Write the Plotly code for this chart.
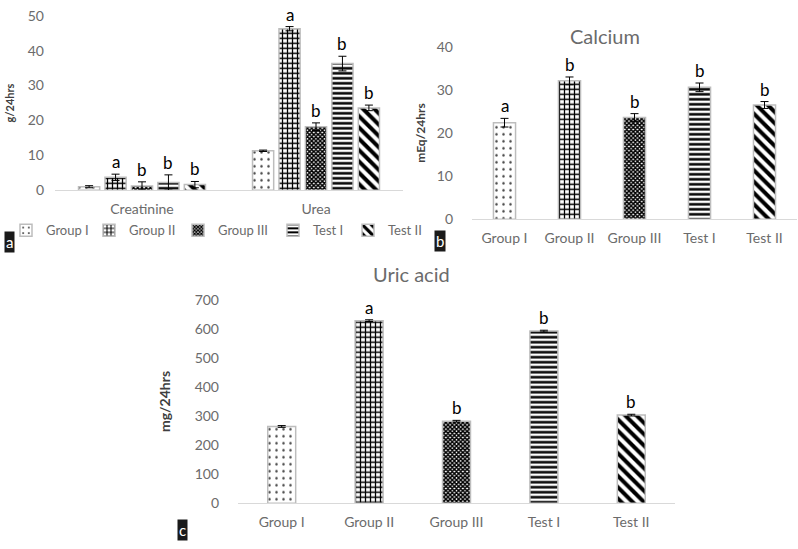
import plotly.graph_objects as go

W, H = 798, 549

groups = ["Group I", "Group II", "Group III", "Test I", "Test II"]
a_categories = ["Creatinine", "Urea"]
# panel a values per group: [Creatinine, Urea]
a_values = {
    "Group I": [1.0, 11.3],
    "Group II": [3.7, 46.3],
    "Group III": [1.2, 18.2],
    "Test I": [2.2, 36.3],
    "Test II": [1.6, 23.6],
}
a_errors = {
    "Group I": [0.3, 0.2],
    "Group II": [0.9, 0.6],
    "Group III": [1.2, 1.1],
    "Test I": [2.2, 2.1],
    "Test II": [0.9, 0.8],
}
a_letters = {
    "Group I": ["", ""],
    "Group II": ["a", "a"],
    "Group III": ["b", "b"],
    "Test I": ["b", "b"],
    "Test II": ["b", "b"],
}

calcium_values = [22.4, 32.1, 23.6, 30.6, 26.5]
calcium_errors = [1.0, 0.9, 0.9, 1.0, 0.8]
calcium_letters = ["a", "b", "b", "b", "b"]

uric_values = [264, 628, 282, 592, 303]
uric_errors = [3, 3, 3, 3, 3]
uric_letters = ["", "a", "b", "b", "b"]

a_ticks = [0, 10, 20, 30, 40, 50]
b_ticks = [0, 10, 20, 30, 40]
c_ticks = [0, 100, 200, 300, 400, 500, 600, 700]

patterns = {
    "Group I": dict(shape=".", size=7, solidity=0.1, fgcolor="#444444"),
    "Group II": dict(shape="+", size=5, solidity=0.45, fgcolor="#000000"),
    "Group III": dict(shape="x", size=3, solidity=0.75, fgcolor="#000000"),
    "Test I": dict(shape="-", size=5, solidity=0.5, fgcolor="#000000"),
    "Test II": dict(shape="\\", size=8, solidity=0.5, fgcolor="#000000"),
}
# legend entry widths (px), slightly tighter than the text itself
legend_widths = {"Group I": 38, "Group II": 44, "Group III": 50, "Test I": 30, "Test II": 34}

FONT = "Lato"
GREY = "#6b6b6b"
OUTLINE = dict(color="#bdbdbd", width=1.5)


def px_x(p):
    return p / W


def px_y(p):
    return 1 - p / H


def pattern_for(keys):
    return dict(shape=[patterns[g]["shape"] for g in keys],
                size=[patterns[g]["size"] for g in keys],
                solidity=[patterns[g]["solidity"] for g in keys],
                fgcolor=[patterns[g]["fgcolor"] for g in keys],
                bgcolor="white", fgopacity=1)


fig = go.Figure()

# ---- panel a ----
for g in groups:
    fig.add_trace(go.Bar(
        x=a_categories, y=a_values[g], name=g,
        error_y=dict(type="data", array=a_errors[g], color="black", thickness=1, width=4),
        marker=dict(color="white", line=OUTLINE,
                    pattern=dict(patterns[g], bgcolor="white", fgopacity=1)),
        xaxis="x", yaxis="y", showlegend=True, legendwidth=legend_widths[g],
    ))

# ---- panel b ----
fig.add_trace(go.Bar(
    x=groups, y=calcium_values, width=0.34,
    error_y=dict(type="data", array=calcium_errors, color="black", thickness=1, width=4),
    marker=dict(color="white", line=OUTLINE, pattern=pattern_for(groups)),
    xaxis="x2", yaxis="y2", showlegend=False,
))

# ---- panel c ----
fig.add_trace(go.Bar(
    x=groups, y=uric_values, width=0.32,
    error_y=dict(type="data", array=uric_errors, color="black", thickness=1, width=4),
    marker=dict(color="white", line=OUTLINE, pattern=pattern_for(groups)),
    xaxis="x3", yaxis="y3", showlegend=False,
))

annotations = []
BARGAP = 0.24
n = len(groups)
slot = (1 - BARGAP) / n
LETTER_FONT = dict(family=FONT, size=17, color="black")
for gi, g in enumerate(groups):
    for ci, cat in enumerate(a_categories):
        if a_letters[g][ci]:
            annotations.append(dict(
                x=ci + (gi - (n - 1) / 2) * slot, y=a_values[g][ci] + a_errors[g][ci],
                xref="x", yref="y", text=a_letters[g][ci], showarrow=False,
                yanchor="bottom", font=LETTER_FONT))
for i, g in enumerate(groups):
    if calcium_letters[i]:
        annotations.append(dict(
            x=g, y=calcium_values[i] + calcium_errors[i], xref="x2", yref="y2",
            text=calcium_letters[i], showarrow=False, yanchor="bottom", font=LETTER_FONT))
    if uric_letters[i]:
        annotations.append(dict(
            x=g, y=uric_values[i] + uric_errors[i], xref="x3", yref="y3",
            text=uric_letters[i], showarrow=False, yanchor="bottom", font=LETTER_FONT))

# titles
annotations.append(dict(x=px_x(605), y=px_y(28), xref="paper", yref="paper", text="Calcium",
                        showarrow=False, xanchor="center", yanchor="middle",
                        font=dict(family=FONT, size=20, color=GREY)))
annotations.append(dict(x=px_x(411), y=px_y(273), xref="paper", yref="paper", text="Uric acid",
                        showarrow=False, xanchor="center", yanchor="middle",
                        font=dict(family=FONT, size=20, color=GREY)))

# panel letters
for txt, cx, cy in [("a", 9, 240), ("b", 440, 239), ("c", 182, 538)]:
    annotations.append(dict(x=px_x(cx), y=px_y(cy), xref="paper", yref="paper", text=txt,
                            showarrow=False, bgcolor="#1a1a1a", borderpad=1,
                            xanchor="center", yanchor="middle",
                            font=dict(family=FONT, size=15, color="white")))

axis_common = dict(showgrid=False, zeroline=False, ticks="", fixedrange=True)

fig.update_layout(
    width=W, height=H,
    margin=dict(l=0, r=0, t=0, b=0),
    paper_bgcolor="white", plot_bgcolor="white",
    barmode="group", bargap=BARGAP, bargroupgap=0.2,
    font=dict(family=FONT, color=GREY),
    xaxis=dict(domain=[px_x(55), px_x(403)], anchor="y", showline=True, linecolor="#d9d9d9",
               linewidth=1, tickfont=dict(size=14, color=GREY), ticklabelstandoff=6, **axis_common),
    yaxis=dict(domain=[px_y(187), px_y(7)], anchor="x", range=[0, 50], tickvals=a_ticks,
               showline=False, tickfont=dict(size=14, color=GREY), ticklabelstandoff=10,
               title=dict(text="<b>g/24hrs</b>", font=dict(size=11, color="#404040"), standoff=10),
               **axis_common),
    xaxis2=dict(domain=[px_x(472), px_x(797)], anchor="y2", showline=True, linecolor="#d9d9d9",
                linewidth=1, tickfont=dict(size=14, color=GREY), ticklabelstandoff=6, **axis_common),
    yaxis2=dict(domain=[px_y(217), px_y(39)], anchor="x2", range=[0, 40], tickvals=b_ticks,
                showline=False, tickfont=dict(size=14, color=GREY), ticklabelstandoff=18,
                title=dict(text="<b>mEq/24hrs</b>", font=dict(size=12, color="#404040"), standoff=8),
                **axis_common),
    xaxis3=dict(domain=[px_x(238), px_x(675)], anchor="y3", showline=True, linecolor="#d9d9d9",
                linewidth=1, tickfont=dict(size=14, color=GREY), ticklabelstandoff=6, **axis_common),
    yaxis3=dict(domain=[px_y(510), px_y(300)], anchor="x3", range=[0, 700], tickvals=c_ticks,
                showline=False, tickfont=dict(size=14, color=GREY), ticklabelstandoff=18,
                title=dict(text="<b>mg/24hrs</b>", font=dict(size=14, color="#404040"), standoff=20),
                **axis_common),
    legend=dict(orientation="h", x=px_x(6), y=px_y(213), xanchor="left", yanchor="top",
                font=dict(family=FONT, size=13, color=GREY), itemwidth=30,
                bgcolor="rgba(0,0,0,0)", tracegroupgap=0),
    annotations=annotations,
)

fig.write_html("out.html", config={"displayModeBar": False},
               post_script="document.body.style.margin='0px';")
